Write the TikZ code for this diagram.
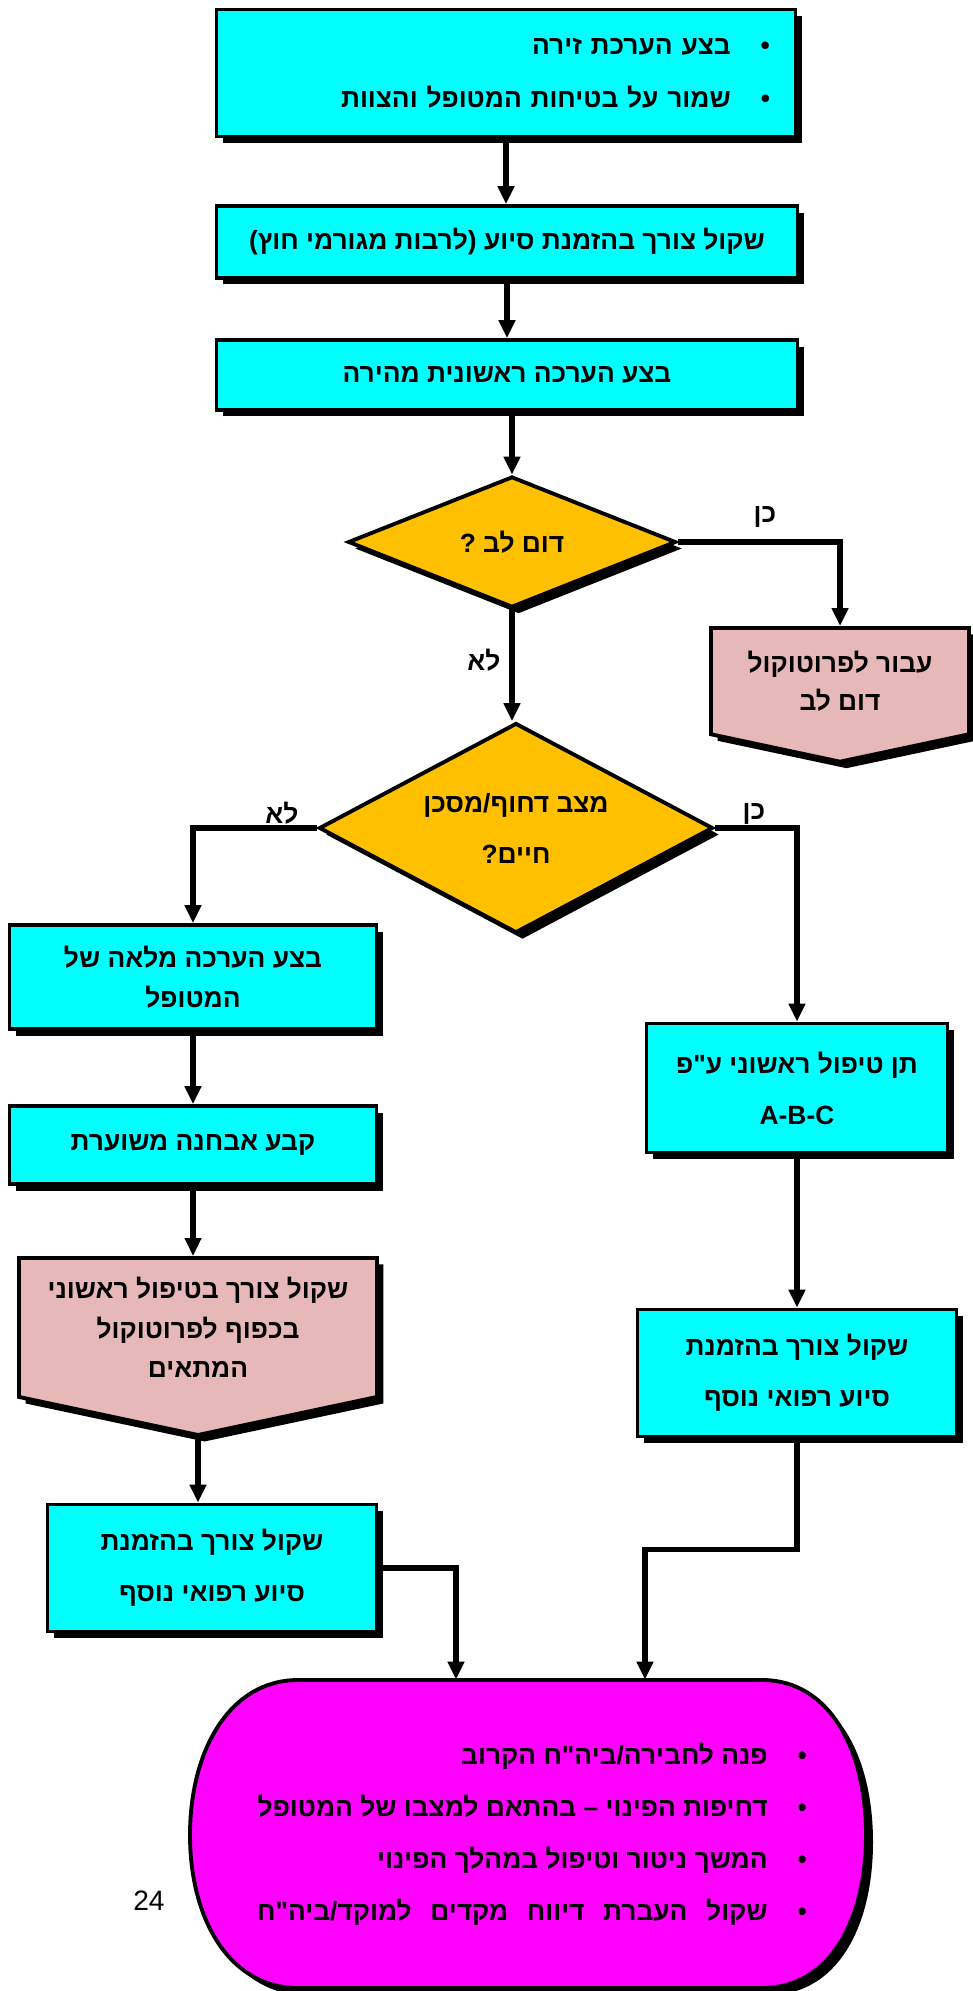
\documentclass[tikz,border=0pt]{standalone}
\usepackage{fontspec}
\setmainfont{Liberation Sans}
\newfontfamily\hebfont[Script=Hebrew]{Liberation Sans}
\TeXXeTstate=1
\usetikzlibrary{shapes.geometric,shapes.symbols,shadows,arrows.meta,calc}

\definecolor{boxcyan}{RGB}{0,255,255}
\definecolor{askgold}{RGB}{255,192,0}
\definecolor{refpink}{RGB}{230,184,183}
\definecolor{endmagenta}{RGB}{255,0,255}

\newcommand{\heb}[1]{\beginR #1\endR}
\newcommand{\barrelpath}{(298,1680) -- (762,1680) .. controls (830,1680) and (866,1750) .. (866,1835)
  .. controls (866,1920) and (830,1988) .. (762,1988) -- (298,1988)
  .. controls (230,1988) and (190,1920) .. (190,1835) .. controls (190,1750) and (230,1680) .. (298,1680) -- cycle}
\newlength{\pinuiw}
\newlength{\gapw}
\AtBeginDocument{%
  \settowidth{\pinuiw}{\hebfont\bfseries\fontsize{15}{29.5}\selectfont\heb{•\hspace{0.6cm}דחיפות הפינוי – בהתאם למצבו של המטופל}}%
  \settowidth{\gapw}{\hebfont\bfseries\fontsize{15}{29.5}\selectfont\heb{•\hspace{0.6cm}שקולהעברתדיווחמקדיםלמוקד/ביה"ח}}%
  \setlength{\gapw}{\dimexpr(\pinuiw-\gapw)/4\relax}%
  \ifdim\gapw<0.2cm \setlength{\gapw}{0.47cm}\fi}

\tikzset{
  base/.style={draw=black, line width=2.2pt, inner sep=0pt, align=center,
    font=\hebfont\bfseries\fontsize{15}{23}\selectfont,
    drop shadow={shadow xshift=0.13cm, shadow yshift=-0.13cm, fill=black, opacity=1}},
  act/.style={base, rectangle, fill=boxcyan},
  ask/.style={base, diamond, aspect=2, fill=askgold},
  jump/.style={base, signal, signal to=south, signal pointer angle=156, fill=refpink, anchor=north},
  finish/.style={rectangle, inner sep=0pt, align=right, font=\hebfont\bfseries\fontsize{15}{29.5}\selectfont},
  conn/.style={line width=3pt, -{Triangle[length=0.36cm,width=0.32cm]}},
  tag/.style={font=\hebfont\bfseries\fontsize{15}{18}\selectfont, inner sep=0pt}
}

\begin{document}
\begin{tikzpicture}[x=0.02cm, y=-0.02cm]
\useasboundingbox (0,0) rectangle (973,1991);

% upper column
\node[act, minimum width=11.58cm, minimum height=2.54cm, text width=10.56cm, align=right,
  font=\hebfont\bfseries\fontsize{15}{30}\selectfont] (zira) at (506,73)
  {\heb{•\hspace{0.6cm}בצע הערכת זירה}\\\heb{•\hspace{0.6cm}שמור על בטיחות המטופל והצוות}};
\node[act, minimum width=11.62cm, minimum height=1.44cm] (siua) at (507,242)
  {\heb{שקול צורך בהזמנת סיוע (לרבות מגורמי חוץ)}};
\node[act, minimum width=11.62cm, minimum height=1.40cm] (rishonit) at (507,375)
  {\heb{בצע הערכה ראשונית מהירה}};
\node[ask, minimum width=6.56cm, minimum height=2.62cm] (domlev) at (512,542)
  {\heb{דום לב ?}};
\node[jump, minimum width=5.16cm, minimum height=2.52cm, font=\hebfont\bfseries\fontsize{15}{22}\selectfont] (protdom) at (840,626)
  {\heb{עבור לפרוטוקול}\\\heb{דום לב}};
\node[ask, minimum width=7.88cm, minimum height=4.2cm, font=\hebfont\bfseries\fontsize{15}{29}\selectfont] (dahuf) at (516,828)
  {\heb{מצב דחוף/מסכן}\\\heb{חיים?}};

% left column
\node[act, minimum width=7.34cm, minimum height=2.08cm] (mele) at (193,977)
  {\heb{בצע הערכה מלאה של}\\\heb{המטופל}};
\node[act, minimum width=7.34cm, minimum height=1.56cm] (avhana) at (193,1145)
  {\heb{קבע אבחנה משוערת}};
\node[jump, minimum width=7.16cm, minimum height=3.42cm, font=\hebfont\bfseries\fontsize{15}{22.5}\selectfont] (protmat) at (198,1256)
  {\heb{שקול צורך בטיפול ראשוני}\\\heb{בכפוף לפרוטוקול}\\\heb{המתאים}};
\node[act, minimum width=6.58cm, minimum height=2.54cm, font=\hebfont\bfseries\fontsize{15}{29}\selectfont] (nosafL) at (212,1568)
  {\heb{שקול צורך בהזמנת}\\\heb{סיוע רפואי נוסף}};

% right column
\node[act, minimum width=6.02cm, minimum height=2.58cm, font=\hebfont\bfseries\fontsize{15}{29}\selectfont] (abc) at (797,1088)
  {\heb{תן טיפול ראשוני ע"פ}\\A-B-C};
\node[act, minimum width=6.38cm, minimum height=2.54cm, font=\hebfont\bfseries\fontsize{15}{29}\selectfont] (nosafR) at (797,1373)
  {\heb{שקול צורך בהזמנת}\\\heb{סיוע רפואי נוסף}};

% end
\fill[black, shift={(7,7)}] \barrelpath;
\filldraw[fill=endmagenta, draw=black, line width=2.2pt] \barrelpath;
\node[finish, minimum width=13.52cm, minimum height=6.16cm] (pinui) at (532,1834)
  {\heb{•\hspace{0.6cm}פנה לחבירה/ביה"ח הקרוב}\\
   \heb{•\hspace{0.6cm}דחיפות הפינוי – בהתאם למצבו של המטופל}\\
   \heb{•\hspace{0.6cm}המשך ניטור וטיפול במהלך הפינוי}\\
   \heb{•\hspace{0.6cm}שקול\hspace{\gapw}העברת\hspace{\gapw}דיווח\hspace{\gapw}מקדים\hspace{\gapw}למוקד/ביה"ח}};
\node[font=\fontsize{16}{19}\selectfont, inner sep=0pt] (amud) at (149,1901) {24};

% labels
\node[tag] (ken1) at (765,517) {\heb{כן}};
\node[tag] (lo1) at (484,660) {\heb{לא}};
\node[tag] (lo2) at (282,813) {\heb{לא}};
\node[tag] (ken2) at (754,814) {\heb{כן}};

% connectors
\draw[conn] (zira.south) -- (zira.south |- siua.north);
\draw[conn] (siua.south) -- (siua.south |- rishonit.north);
\draw[conn] (domlev.north |- rishonit.south) -- (domlev.north);
\draw[conn] (domlev.east) -| (protdom.north);
\draw[conn] (domlev.south) -- (domlev.south |- dahuf.north);
\draw[conn] (dahuf.west) -| (mele.north);
\draw[conn] (dahuf.east) -| (abc.north);
\draw[conn] (mele.south) -- (mele.south |- avhana.north);
\draw[conn] (avhana.south) -- (avhana.south |- protmat.north);
\draw[conn] (protmat.south) -- (protmat.south |- nosafL.north);
\draw[conn] (abc.south) -- (abc.south |- nosafR.north);
\draw[conn] (nosafR.south) -- ++(0,111) -| ($(pinui.north)+(113,0)$);
\draw[conn] (nosafL.east) -| ($(pinui.north)+(-76,0)$);
\end{tikzpicture}
\end{document}
